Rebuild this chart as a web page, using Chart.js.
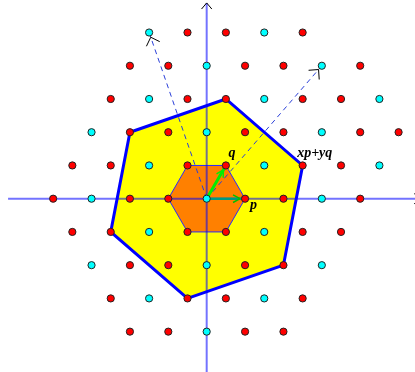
<!DOCTYPE html>
<html lang="en">
  <head>
    <meta charset="UTF-8" />
    <script src="https://cdn.jsdelivr.net/npm/chart.js@4.4.0/dist/chart.umd.min.js"></script>
    <title>Lattice</title>
    <style>
      body { margin: 0; background: #fff; }
      canvas { display: block; }
    </style>
  </head>
  <body>
    <canvas id="chart" width="415" height="372"></canvas>

    <script>
      // lattice: x counted in half steps, y counted in rows
      const rows = [5, 4, 3, 2, 1, 0, -1, -2, -3, -4];
      const redCols = [
        [-1, 1, 5],
        [-4, -2, 2, 4, 8],
        [-5, -1, 1, 5, 7],
        [-4, -2, 2, 4, 8, 10],
        [-7, -5, -1, 1, 5, 7],
        [-8, -4, -2, 2, 4, 8],
        [-7, -5, -1, 1, 5, 7],
        [-4, -2, 2, 4],
        [-5, -1, 1, 5],
        [-4, -2, 2, 4],
      ];
      const cyanCols = [
        [-3, 3],
        [0, 6],
        [-3, 3, 9],
        [-6, 0, 6],
        [-3, 3, 9],
        [-6, 0, 6],
        [-3, 3],
        [-6, 0, 6],
        [-3, 3],
        [0],
      ];

      // corners [col, row]
      const bigPoly = [[-4, 2], [1, 3], [5, 1], [4, -2], [-1, -3], [-5, -1]];
      const smallHex = [[2, 0], [1, 1], [-1, 1], [-2, 0], [-1, -1], [1, -1]];
      const vecP = [2, 0];
      const vecQ = [1, 1];
      const longVecs = [[-3, 5], [6, 4]];
      const labelText = ["q", "p", "xp+yq"];
      const labelAt = [[1, 1], [2, 0], [5, 1]];
      const xAxisEnds = [-10.35, 11.2];
      const yAxisEnds = [-5.4, 5.89];

      const pt = (c) => ({ x: c[0], y: c[1] });
      const closed = (arr) => arr.concat([arr[0]]).map(pt);

      const red = [];
      const cyan = [];
      rows.forEach((r, i) => {
        redCols[i].forEach((c) => red.push({ x: c, y: r }));
        cyanCols[i].forEach((c) => cyan.push({ x: c, y: r }));
      });

      const line = (data, color, width, order, extra) =>
        Object.assign(
          {
            data: data,
            showLine: true,
            borderColor: color,
            borderWidth: width,
            pointRadius: 0,
            fill: false,
            order: order,
          },
          extra || {}
        );

      // open V arrow heads at the end of a dataset
      const arrowHeads = {
        id: "arrowHeads",
        afterDatasetDraw(chart, args) {
          const ds = chart.data.datasets[args.index];
          if (!ds.arrow) return;
          const pts = args.meta.data;
          const a = pts[pts.length - 2];
          const b = pts[pts.length - 1];
          const ang = Math.atan2(b.y - a.y, b.x - a.x);
          const tx = b.x - Math.cos(ang) * ds.arrow.back;
          const ty = b.y - Math.sin(ang) * ds.arrow.back;
          const ctx = chart.ctx;
          ctx.save();
          ctx.strokeStyle = ds.arrow.color;
          ctx.lineWidth = ds.arrow.width;
          ctx.beginPath();
          [1, -1].forEach((s) => {
            const t = ang + Math.PI + s * ds.arrow.spread;
            ctx.moveTo(tx, ty);
            ctx.lineTo(tx + Math.cos(t) * ds.arrow.len, ty + Math.sin(t) * ds.arrow.len);
          });
          ctx.stroke();
          ctx.restore();
        },
      };

      const textLabels = {
        id: "textLabels",
        afterDraw(chart) {
          const ctx = chart.ctx;
          const xs = chart.scales.x;
          const ys = chart.scales.y;
          const offs = [[2.5, -8.5], [5, 10], [-5.5, -8.5]];
          ctx.save();
          ctx.font = "italic bold 14px 'Liberation Serif'";
          ctx.fillStyle = "#000";
          ctx.textBaseline = "alphabetic";
          labelText.forEach((t, i) => {
            const px = xs.getPixelForValue(labelAt[i][0]) + offs[i][0];
            const py = ys.getPixelForValue(labelAt[i][1]) + offs[i][1];
            ctx.fillText(t, px, py);
          });
          ctx.restore();
        },
      };

      const ctx = document.getElementById("chart").getContext("2d");
      const myChart = new Chart(ctx, {
        type: "scatter",
        data: {
          datasets: [
            line(closed(bigPoly), "#0000ff", 3, 10, {
              fill: "shape",
              backgroundColor: "#ffff00",
            }),
            line(closed(smallHex), "#2a2aff", 1, 9, {
              fill: "shape",
              backgroundColor: "#ff8000",
            }),
            line([{ x: xAxisEnds[0], y: 0 }, { x: xAxisEnds[1], y: 0 }], "rgba(0,0,255,0.55)", 2, 8, {
              arrow: { color: "#000", width: 1, len: 9, spread: 0.6, back: 0 },
            }),
            line([{ x: 0, y: yAxisEnds[0] }, { x: 0, y: yAxisEnds[1] }], "rgba(0,0,255,0.55)", 2, 8, {
              arrow: { color: "#000", width: 1, len: 8, spread: 0.7, back: 0 },
            }),
            line([{ x: 0, y: 0 }, pt(longVecs[0])], "#2a3fd8", 1, 7, {
              borderDash: [5, 4],
              arrow: { color: "#000", width: 1, len: 10, spread: 0.78, back: 5 },
            }),
            line([{ x: 0, y: 0 }, pt(longVecs[1])], "#2a3fd8", 1, 7, {
              borderDash: [5, 4],
              arrow: { color: "#000", width: 1, len: 10, spread: 0.78, back: 5 },
            }),
            line([{ x: 0, y: 0 }, pt(vecP)], "#009a80", 2.5, 6, {
              arrow: { color: "#00c000", width: 1.5, len: 8, spread: 0.5, back: 5 },
            }),
            line([{ x: 0, y: 0 }, pt(vecQ)], "#00ee00", 3, 6, {
              arrow: { color: "#00ee00", width: 1.5, len: 8, spread: 0.5, back: 5 },
            }),
            {
              data: red,
              pointRadius: 3.6,
              pointBackgroundColor: "#ff0000",
              pointBorderColor: "#222",
              pointBorderWidth: 1,
              order: 1,
            },
            {
              data: cyan,
              pointRadius: 3.6,
              pointBackgroundColor: "#00ffff",
              pointBorderColor: "#222",
              pointBorderWidth: 1,
              order: 1,
            },
          ],
        },
        options: {
          responsive: false,
          animation: false,
          layout: { padding: 0, autoPadding: false },
          plugins: {
            legend: { display: false },
            tooltip: { enabled: false },
          },
          scales: {
            x: { type: "linear", display: false, min: -10.77, max: 10.855 },
            y: { type: "linear", display: false, min: -5.214, max: 5.978 },
          },
        },
        plugins: [arrowHeads, textLabels],
      });
    </script>
  </body>
</html>
